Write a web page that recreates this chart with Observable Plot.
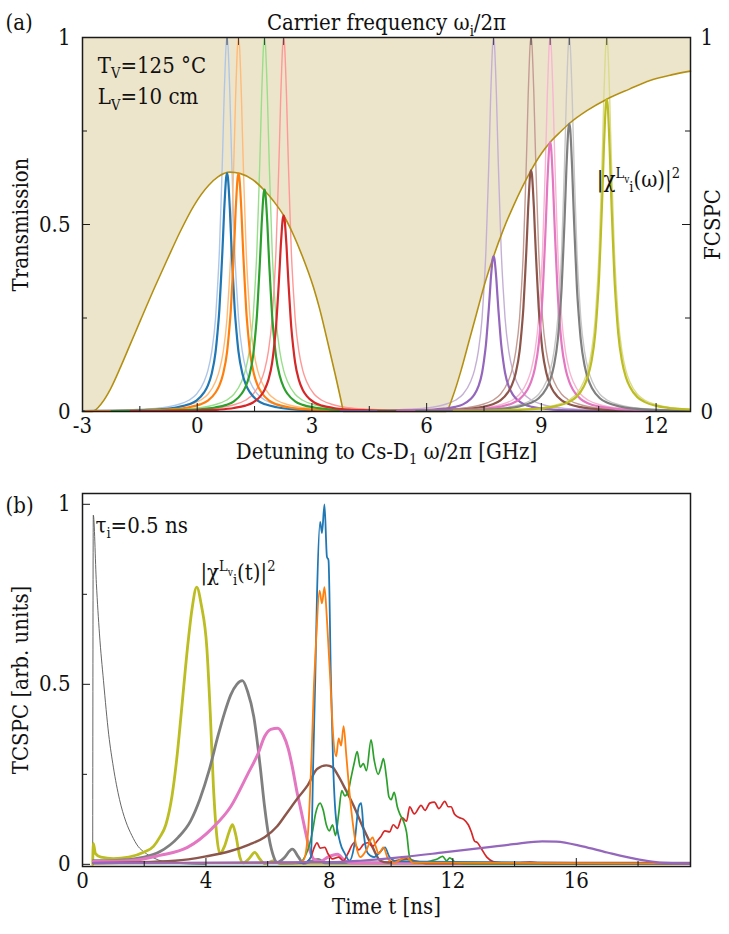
<!DOCTYPE html>
<html>
<head>
<meta charset="utf-8">
<script src="https://cdn.jsdelivr.net/npm/d3@7"></script>
<script src="https://cdn.jsdelivr.net/npm/@observablehq/plot@0.6"></script>
<style>
  body { margin: 0; background: #fff; }
  #chart { width: 729px; }
  #chart svg { display: block; }
</style>
</head>
<body>
<div id="chart"></div>
<script>
// ---------- Panel (a): vapour transmission and filter spectra ----------
// Transmission of the vapour cell vs detuning [GHz]
const transX = [-3, -2.75, -2.5, -2.27, -2.0, -1.75, -1.48, -1.1, -0.79, -0.45, -0.09, 0.3, 0.55, 0.85, 1.13, 1.45, 1.74, 2.0, 2.26, 2.5, 2.75, 3.04, 3.2, 3.39, 3.6, 3.79, 3.82,
                6.5, 6.7, 6.9, 7.1, 7.3, 7.5, 7.75, 8.0, 8.27, 8.5, 8.73, 9.0, 9.23, 9.5, 9.73, 10.2, 10.71, 11.3, 11.84, 12.4, 12.9];
const transY = [0, 0, 0.022, 0.06, 0.12, 0.18, 0.245, 0.335, 0.405, 0.48, 0.55, 0.605, 0.628, 0.64, 0.636, 0.62, 0.593, 0.562, 0.524, 0.476, 0.415, 0.332, 0.275, 0.195, 0.103, 0.015, 0,
                0, 0.045, 0.11, 0.185, 0.26, 0.335, 0.415, 0.485, 0.55, 0.6, 0.645, 0.69, 0.72, 0.748, 0.77, 0.805, 0.835, 0.862, 0.885, 0.9, 0.91];

// Carrier frequencies [GHz] and transmitted peak heights of each filter line
const carriers = [0.78, 1.08, 1.76, 2.26, 7.75, 8.73, 9.23, 9.73, 10.71];
const peakHeights = [0.637, 0.636, 0.593, 0.524, 0.415, 0.645, 0.72, 0.77, 0.835];
const peakColors = ["#1f77b4", "#ff7f0e", "#2ca02c", "#d62728", "#9467bd", "#8c564b", "#e377c2", "#7f7f7f", "#bcbd22"];
const lightColors = ["#aec7e8", "#ffbb78", "#98df8a", "#ff9896", "#c5b0d5", "#c49c94", "#f7b6d2", "#c7c7c7", "#dbdb8d"];

// Line shape of one filter line: offset from carrier [GHz] -> relative height
const lineOffsets = [0, 0.025, 0.05, 0.075, 0.1, 0.125, 0.15, 0.2, 0.25, 0.3, 0.4, 0.5, 0.6, 0.8, 1.0, 1.3, 1.7, 2.2, 3.0, 4.0];
const lineShape   = [1, 0.98, 0.92, 0.845, 0.75, 0.66, 0.58, 0.43, 0.33, 0.25, 0.16, 0.11, 0.08, 0.046, 0.03, 0.018, 0.01, 0.006, 0.003, 0.002];

// Axis ticks
const aXMajor = [-3, 0, 3, 6, 9, 12];
const aXMinor = [-1.5, 1.5, 4.5, 7.5, 10.5];
const aYMajor = [0, 0.5, 1];
const aYMinor = [0.25, 0.75];

// ---------- Panel (b): time-resolved counts [t (ns), counts] ----------
const pulseRef = [[0.33,0],[0.35,0.97],[0.45,0.78],[0.55,0.64],[0.68,0.51],[0.85,0.36],[1.0,0.27],[1.2,0.18],[1.4,0.12],[1.6,0.08],[1.8,0.05],[2.0,0.034],[2.3,0.018],[2.6,0.008],[3.0,0.003],[4.0,0]];
const olive  = [[0.33,0],[0.35,0.058],[0.42,0.03],[0.6,0.02],[1.0,0.016],[1.5,0.02],[2.0,0.034],[2.3,0.05],[2.5,0.075],[2.7,0.11],[2.9,0.19],[3.05,0.29],[3.2,0.42],[3.4,0.6],[3.55,0.71],[3.7,0.77],[3.85,0.72],[4.03,0.6],[4.14,0.42],[4.24,0.22],[4.35,0.08],[4.45,0.03],[4.6,0.05],[4.75,0.09],[4.86,0.11],[4.97,0.08],[5.1,0.02],[5.2,0.004],[5.4,0.016],[5.58,0.033],[5.75,0.014],[5.9,0.002],[6.2,0.01],[6.4,0.002],[8,0.003],[19.7,0.002]];
const gray   = [[0.35,0.01],[1.0,0.01],[2.0,0.02],[2.5,0.035],[3.1,0.075],[3.5,0.12],[3.8,0.18],[4.1,0.26],[4.4,0.36],[4.6,0.42],[4.8,0.47],[5.0,0.5],[5.18,0.51],[5.35,0.48],[5.55,0.41],[5.76,0.27],[5.9,0.16],[6.04,0.075],[6.2,0.02],[6.3,0.005],[6.5,0.015],[6.8,0.042],[7.0,0.02],[7.15,0.003],[7.4,0.008],[7.64,0.014],[7.85,0.004],[19.7,0.003]];
const pink   = [[0.35,0.008],[1.5,0.01],[2.5,0.025],[3.4,0.047],[4.2,0.1],[4.8,0.16],[5.35,0.25],[5.7,0.31],[5.9,0.355],[6.1,0.375],[6.32,0.378],[6.5,0.36],[6.67,0.32],[6.8,0.27],[6.94,0.205],[7.08,0.15],[7.22,0.093],[7.36,0.04],[7.5,0.014],[7.7,0.008],[7.95,0.02],[8.26,0.028],[8.5,0.01],[8.7,0.004],[19.7,0.002]];
const brown  = [[0.35,0.003],[3.0,0.01],[4.0,0.022],[4.8,0.037],[5.4,0.055],[5.9,0.075],[6.3,0.105],[6.6,0.14],[7.0,0.187],[7.3,0.22],[7.6,0.265],[7.9,0.275],[8.1,0.27],[8.26,0.25],[8.54,0.205],[8.8,0.16],[9.1,0.1],[9.4,0.047],[9.65,0.01],[9.9,0.005],[10.2,0.01],[10.5,0.015],[10.8,0.008],[11.2,0.003],[19.7,0.002]];
const blue   = [[0.35,0.003],[6.8,0.003],[7.2,0.005],[7.4,0.02],[7.48,0.3],[7.54,0.51],[7.6,0.754],[7.7,0.951],[7.76,0.92],[7.84,1.0],[7.92,0.854],[7.97,0.845],[8.05,0.51],[8.12,0.28],[8.2,0.14],[8.35,0.06],[8.5,0.03],[8.65,0.01],[8.8,0.05],[8.95,0.16],[9.03,0.17],[9.12,0.08],[9.25,0.03],[9.45,0.02],[9.65,0.035],[9.8,0.047],[9.95,0.02],[10.2,0.008],[19.7,0.002]];
const orange = [[0.35,0.003],[6.9,0.004],[7.15,0.01],[7.3,0.08],[7.42,0.3],[7.5,0.5],[7.57,0.624],[7.68,0.76],[7.76,0.725],[7.84,0.77],[7.92,0.68],[8.03,0.51],[8.12,0.36],[8.22,0.3],[8.3,0.35],[8.38,0.33],[8.46,0.384],[8.55,0.3],[8.65,0.2],[8.75,0.12],[8.85,0.06],[9.0,0.02],[9.2,0.04],[9.4,0.075],[9.5,0.05],[9.6,0.03],[9.75,0.047],[9.9,0.015],[10.1,0.005],[10.5,0.02],[10.7,0.005],[19.7,0.002]];
const green  = [[0.35,0.003],[7.0,0.004],[7.3,0.04],[7.45,0.09],[7.55,0.14],[7.7,0.17],[7.8,0.15],[7.9,0.11],[8.0,0.093],[8.1,0.11],[8.2,0.08],[8.3,0.14],[8.4,0.205],[8.5,0.19],[8.6,0.2],[8.7,0.24],[8.8,0.28],[8.9,0.313],[9.0,0.27],[9.1,0.28],[9.2,0.26],[9.35,0.346],[9.45,0.29],[9.58,0.25],[9.67,0.27],[9.75,0.294],[9.85,0.24],[9.93,0.187],[10.0,0.18],[10.1,0.2],[10.2,0.16],[10.28,0.14],[10.4,0.12],[10.5,0.089],[10.6,0.02],[10.75,0.005],[11.0,0.005],[11.3,0.01],[11.5,0.015],[11.67,0.022],[11.8,0.01],[11.9,0.018],[12.1,0.005],[12.5,0.002],[19.7,0.002]];
const red    = [[0.35,0.003],[7.2,0.004],[7.4,0.02],[7.5,0.045],[7.6,0.06],[7.7,0.045],[7.85,0.047],[7.95,0.03],[8.1,0.015],[8.3,0.02],[8.45,0.01],[8.6,0.03],[8.8,0.06],[8.95,0.04],[9.1,0.055],[9.24,0.06],[9.4,0.05],[9.55,0.065],[9.65,0.075],[9.8,0.093],[9.95,0.09],[10.07,0.11],[10.2,0.1],[10.35,0.13],[10.5,0.12],[10.6,0.16],[10.75,0.14],[10.97,0.164],[11.1,0.15],[11.25,0.17],[11.4,0.173],[11.55,0.155],[11.74,0.175],[11.85,0.16],[11.94,0.16],[12.05,0.14],[12.2,0.13],[12.35,0.125],[12.5,0.11],[12.6,0.09],[12.7,0.065],[12.8,0.06],[12.9,0.047],[13.1,0.02],[13.3,0.008],[13.5,0.005],[14.0,0.003],[14.5,0.006],[15.0,0.002],[19.7,0.002]];
const purple = [[0.35,0.004],[8.0,0.006],[9.0,0.01],[10.35,0.02],[11.7,0.033],[13.1,0.047],[13.96,0.056],[14.9,0.064],[15.35,0.063],[16.2,0.05],[17.0,0.033],[18.0,0.014],[18.7,0.005],[19.7,0.002]];

const bXMajor = [0, 4, 8, 12, 16];
const bXMinor = [2, 6, 10, 14, 18];
const bYMajor = [0, 0.5, 1];
const bYMinor = [0.25, 0.75];

// ---------- shared styling ----------
const W = 729;
const FS = 22;
const FONT = "'DejaVu Serif Condensed', 'DejaVu Serif', serif";
const beige = "#ede5cb";
const gold = "#b38f12";
const frameColor = "#1a1a1a";

const transmission = transX.map((x, i) => ({x, y: transY[i]}));
const lineProfile = [
  ...lineOffsets.slice(1).reverse().map((d, i) => ({d: -d, r: lineShape[lineOffsets.length - 1 - i]})),
  ...lineOffsets.map((d, i) => ({d, r: lineShape[i]}))
];
const pairs = arr => arr.map(([x, y]) => ({x, y}));

// inward tick marks along the frame
function frameTicks(xMaj, xMin, yMaj, yMin, fw, fh, opts = {}) {
  const m = [
    Plot.tickX(xMaj, {x: d => d, insetTop: fh - 8, stroke: frameColor, strokeWidth: 1}),
    Plot.tickX(xMin, {x: d => d, insetTop: fh - 5, stroke: frameColor, strokeWidth: 1}),
    Plot.tickY(yMaj, {y: d => d, insetRight: fw - 8, stroke: frameColor, strokeWidth: 1}),
    Plot.tickY(yMin, {y: d => d, insetRight: fw - 5, stroke: frameColor, strokeWidth: 1})
  ];
  if (opts.right) {
    m.push(Plot.tickY(yMaj, {y: d => d, insetLeft: fw - 8, stroke: frameColor, strokeWidth: 1}));
    m.push(Plot.tickY(yMin, {y: d => d, insetLeft: fw - 5, stroke: frameColor, strokeWidth: 1}));
  }
  return m;
}

// turn _{..} / ^{..} / ~{..} markup into sub/superscript tspans
function richText(svg) {
  d3.select(svg).selectAll("text").each(function () {
    const s = this.textContent;
    if (!/[_^~]\{/.test(s)) return;
    const el = d3.select(this);
    el.text(null);
    const re = /([_^~])\{([^}]*)\}|([^_^~]+)/g;
    let cur = 0, m;
    while ((m = re.exec(s))) {
      let target = 0, size = null, txt;
      if (m[1]) {
        txt = m[2];
        if (m[1] === "^") { target = -0.4 * FS; size = 0.66 * FS; }
        else if (m[1] === "_") { target = 0.25 * FS; size = 0.66 * FS; }
        else { target = -0.18 * FS; size = 0.46 * FS; }
      } else txt = m[3];
      const t = el.append("tspan").attr("dy", target - cur).text(txt);
      if (size) t.attr("font-size", size);
      cur = target;
    }
  });
}

// ---------- Panel (a) ----------
const aTop = 37, aBottom = 411, aLeft = 82, aRight = 690;
const aH = 475;
const fwA = aRight - aLeft, fhA = aBottom - aTop;

const peakMarks = carriers.map((c, i) =>
  Plot.line(lineProfile, {x: p => c + p.d, y: p => p.r, stroke: lightColors[i], strokeWidth: 1.4, curve: "monotone-x", clip: true}));
const darkMarks = carriers.map((c, i) =>
  Plot.line(lineProfile, {x: p => c + p.d, y: p => p.r * peakHeights[i], stroke: peakColors[i], strokeWidth: 2.2, curve: "monotone-x", clip: true}));

const plotA = Plot.plot({
  width: W, height: aH,
  marginLeft: aLeft, marginRight: W - aRight, marginTop: aTop, marginBottom: aH - aBottom,
  style: {fontFamily: FONT, fontSize: FS + "px", background: "transparent", color: "#111", overflow: "visible"},
  x: {domain: [-3, 12.9]},
  y: {domain: [0, 1]},
  marks: [
    Plot.areaY(transmission, {x: "x", y1: "y", y2: 1, fill: beige, curve: "monotone-x"}),
    ...peakMarks,
    Plot.line(transmission, {x: "x", y: "y", stroke: gold, strokeWidth: 1.6, curve: "monotone-x"}),
    ...darkMarks,
    ...frameTicks(aXMajor, aXMinor, aYMajor, aYMinor, fwA, fhA, {right: true}),
    Plot.tickX(carriers, {x: d => d, insetBottom: fhA - 8, stroke: "#444", strokeWidth: 1}),
    Plot.axisX({ticks: aXMajor, tickSize: 0, tickPadding: 6, tickFormat: d => `${d}`, label: null, fontSize: FS}),
    Plot.axisY({ticks: aYMajor, tickSize: 0, tickPadding: 12, tickFormat: d => `${d}`, label: null, fontSize: FS}),
    Plot.axisY({anchor: "right", ticks: [0, 1], tickSize: 0, tickPadding: 10, tickFormat: d => `${d}`, label: null, fontSize: FS}),
    Plot.frame({stroke: frameColor, strokeWidth: 1.5}),
    Plot.text(["Carrier frequency ω_{i}/2π"], {text: d => d, frameAnchor: "top", dy: -23, fontSize: FS}),
    Plot.text(["Detuning to Cs-D_{1} ω/2π [GHz]"], {text: d => d, frameAnchor: "bottom", dy: 47, fontSize: FS}),
    Plot.text(["Transmission"], {text: d => d, frameAnchor: "left", dx: -62, rotate: -90, textAnchor: "middle", fontSize: FS}),
    Plot.text(["FCSPC"], {text: d => d, frameAnchor: "right", dx: 22, rotate: -90, textAnchor: "middle", fontSize: FS}),
    Plot.text(["(a)"], {text: d => d, frameAnchor: "top-left", dx: -77, dy: -23, textAnchor: "start", fontSize: FS}),
    Plot.text(["T_{V}=125 °C"], {text: d => d, x: -2.6, y: 0.925, textAnchor: "start", fontSize: FS}),
    Plot.text(["L_{V}=10 cm"], {text: d => d, x: -2.6, y: 0.84, textAnchor: "start", fontSize: FS}),
    Plot.text(["|χ^{L}~{v}_{i}(ω)|^{2}"], {text: d => d, x: 10.45, y: 0.62, textAnchor: "start", fontSize: FS})
  ]
});

// ---------- Panel (b) ----------
const bH = 934 - aH;
const bTop = 493 - aH, bBottom = 866 - aH;
const fhB = bBottom - bTop, fwB = fwA;

const series = [
  {data: pulseRef, color: "#555", w: 0.9},
  {data: olive, color: "#bcbd22", w: 2.8},
  {data: gray, color: "#7f7f7f", w: 2.8},
  {data: pink, color: "#e377c2", w: 3.0},
  {data: brown, color: "#8c564b", w: 2.4},
  {data: red, color: "#d62728", w: 1.7},
  {data: green, color: "#2ca02c", w: 1.7},
  {data: blue, color: "#1f77b4", w: 1.8},
  {data: orange, color: "#ff7f0e", w: 1.8},
  {data: purple, color: "#9467bd", w: 2.2}
];

const plotB = Plot.plot({
  width: W, height: bH,
  marginLeft: aLeft, marginRight: W - aRight, marginTop: bTop, marginBottom: bH - bBottom,
  style: {fontFamily: FONT, fontSize: FS + "px", background: "transparent", color: "#111", overflow: "visible"},
  x: {domain: [0, 19.7]},
  y: {domain: [-0.006, 1.03]},
  marks: [
    ...series.map(s => Plot.line(pairs(s.data), {x: "x", y: "y", stroke: s.color, strokeWidth: s.w, curve: "monotone-x", strokeLinejoin: "round", clip: true})),
    ...frameTicks(bXMajor, bXMinor, bYMajor, bYMinor, fwB, fhB),
    Plot.axisX({ticks: bXMajor, tickSize: 0, tickPadding: 6, tickFormat: d => `${d}`, label: null, fontSize: FS}),
    Plot.axisY({ticks: bYMajor, tickSize: 0, tickPadding: 12, tickFormat: d => `${d}`, label: null, fontSize: FS}),
    Plot.frame({stroke: frameColor, strokeWidth: 1.5}),
    Plot.text(["Time t [ns]"], {text: d => d, frameAnchor: "bottom", dy: 47, fontSize: FS}),
    Plot.text(["TCSPC [arb. units]"], {text: d => d, frameAnchor: "left", dx: -62, rotate: -90, textAnchor: "middle", fontSize: FS}),
    Plot.text(["(b)"], {text: d => d, frameAnchor: "top-left", dx: -77, dy: 4, textAnchor: "start", fontSize: FS}),
    Plot.text(["τ_{i}=0.5 ns"], {text: d => d, x: 0.42, y: 0.94, textAnchor: "start", fontSize: FS}),
    Plot.text(["|χ^{L}~{v}_{i}(t)|^{2}"], {text: d => d, x: 3.82, y: 0.81, textAnchor: "start", fontSize: FS})
  ]
});

richText(plotA);
richText(plotB);
const root = document.getElementById("chart");
root.appendChild(plotA);
root.appendChild(plotB);
</script>
</body>
</html>
